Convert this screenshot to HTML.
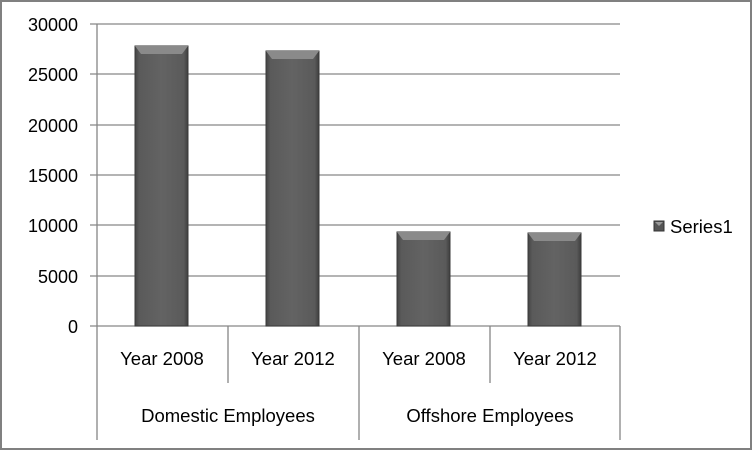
<!DOCTYPE html>
<html><head><style>body{margin:0;background:#fff}svg{display:block}</style></head><body>
<svg width="753" height="451" xmlns="http://www.w3.org/2000/svg" font-family="Liberation Sans, sans-serif">
<defs>
<linearGradient id="bg" x1="0" x2="1" y1="0" y2="0">
<stop offset="0" stop-color="#444"/><stop offset="0.08" stop-color="#5a5a5a"/><stop offset="0.5" stop-color="#636363"/><stop offset="0.92" stop-color="#5a5a5a"/><stop offset="1" stop-color="#3e3e3e"/></linearGradient>
</defs>
<rect x="1" y="1" width="750" height="448" fill="#fff" stroke="#808080" stroke-width="2"/>
<g stroke="#868686" stroke-width="1.3">
<line x1="90" y1="24" x2="620" y2="24"/><line x1="90" y1="74" x2="620" y2="74"/>
<line x1="90" y1="125" x2="620" y2="125"/><line x1="90" y1="175" x2="620" y2="175"/>
<line x1="90" y1="225" x2="620" y2="225"/><line x1="90" y1="276" x2="620" y2="276"/>
<line x1="90" y1="326" x2="620" y2="326"/>
<line x1="97" y1="24" x2="97" y2="440"/><line x1="620" y1="326" x2="620" y2="440"/>
<line x1="359" y1="326" x2="359" y2="440"/>
<line x1="228" y1="326" x2="228" y2="383"/><line x1="490" y1="326" x2="490" y2="383"/>
</g>
<g font-size="18" fill="#000" text-anchor="end">
<text x="78" y="31">30000</text><text x="78" y="81">25000</text><text x="78" y="132">20000</text>
<text x="78" y="182">15000</text><text x="78" y="232">10000</text><text x="78" y="283">5000</text><text x="78" y="333">0</text>
</g>
<g>
<rect x="135" y="46" width="53" height="280" fill="url(#bg)" stroke="#3a3a3a"/>
<polygon points="135,46 188,46 182,54 141,54" fill="#8a8a8a"/>
<rect x="266" y="51" width="53" height="275" fill="url(#bg)" stroke="#3a3a3a"/>
<polygon points="266,51 319,51 313,59 272,59" fill="#8a8a8a"/>
<rect x="397" y="232" width="53" height="94" fill="url(#bg)" stroke="#3a3a3a"/>
<polygon points="397,232 450,232 444,240 403,240" fill="#8a8a8a"/>
<rect x="528" y="233" width="53" height="93" fill="url(#bg)" stroke="#3a3a3a"/>
<polygon points="528,233 581,233 575,241 534,241" fill="#8a8a8a"/>
</g>
<g font-size="18.5" fill="#000" text-anchor="middle">
<text x="162" y="365">Year 2008</text><text x="293" y="365">Year 2012</text>
<text x="424" y="365">Year 2008</text><text x="555" y="365">Year 2012</text>
<text x="228" y="422">Domestic Employees</text><text x="490" y="422">Offshore Employees</text>
</g>
<rect x="654" y="221" width="10" height="10" fill="#555" stroke="#333"/>
<polygon points="655,222 663,222 659,226" fill="#999"/>
<text x="670" y="233" font-size="18.5">Series1</text>
</svg>
</body></html>
